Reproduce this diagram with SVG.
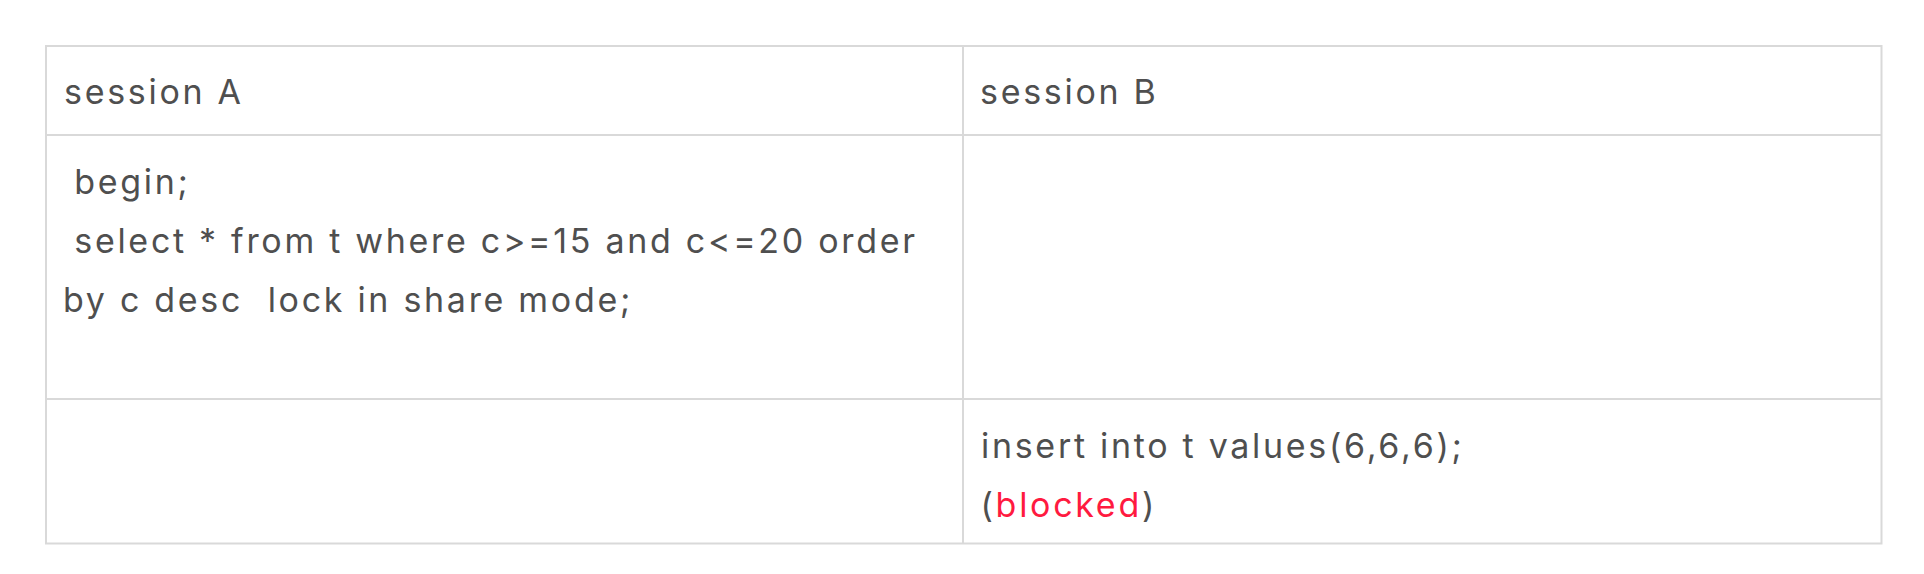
<svg xmlns="http://www.w3.org/2000/svg" width="1924" height="574" viewBox="0 0 1924 574">
<style>
.t{font-family:Inter,"Liberation Sans",Arial,sans-serif;font-size:34px;letter-spacing:2.7px;fill:#4f4f4f;white-space:pre}
.red{fill:#ff1a40}
.ln{stroke:#d9d9d9;stroke-width:2;fill:none}
</style>
<rect x="0" y="0" width="1924" height="574" fill="#ffffff"/>
<g id="table-grid">
<rect class="ln" x="46" y="46" width="1835.5" height="497.5"/>
<line class="ln" x1="46" y1="135" x2="1881.5" y2="135"/>
<line class="ln" x1="46" y1="399" x2="1881.5" y2="399"/>
<line class="ln" x1="963" y1="46" x2="963" y2="543.5"/>
</g>
<g id="header-a"><text class="t" x="64" y="104">session A</text></g>
<g id="header-b"><text class="t" x="980" y="104">session B</text></g>
<g id="cell-a1">
<text class="t" x="62" y="193.5"> begin;</text>
<text class="t" x="62" y="252.5"> select * from t where c&gt;=15 and c&lt;=20 order</text>
<text class="t" x="63" y="311.5">by c desc  lock in share mode;</text>
</g>
<g id="cell-b2">
<text class="t" x="981" y="458">insert into t values(6,6,6);</text>
<text class="t" x="980.5" y="517">(<tspan class="red">blocked</tspan>)</text>
</g>
</svg>
